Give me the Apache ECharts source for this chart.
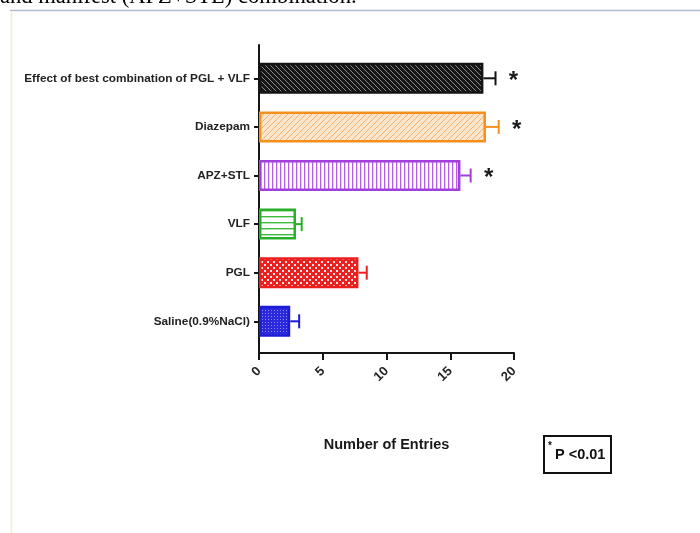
<!DOCTYPE html>
<html>
<head>
<meta charset="utf-8">
<script src="https://cdn.jsdelivr.net/npm/echarts@6/dist/echarts.min.js"></script>
<style>
html,body{margin:0;padding:0;background:#fff;}
#chart{width:700px;height:533px;}
</style>
</head>
<body>
<div id="chart"></div>
<script>
// ---- data (top to bottom) ----
const categories = ['Effect of best combination of PGL + VLF', 'Diazepam', 'APZ+STL', 'VLF', 'PGL', 'Saline(0.9%NaCl)'];
const means = [17.6, 17.8, 15.8, 2.9, 7.8, 2.45];
const errors = [0.95, 1.0, 0.8, 0.45, 0.65, 0.7];
const significant = [true, true, true, false, false, false];
const xTicks = [0, 5, 10, 15, 20];
const xAxisTitle = 'Number of Entries';
const legendText = 'P <0.01';
const captionText = 'and manifest (APZ+STL) combination.';

// ---- styles ----
const FONT = "'Liberation Sans',Arial,sans-serif";
const borderColors = ['#141414', '#f5901e', '#a23fdc', '#27b027', '#ec1f1f', '#1c1cd8'];

function tile(w, h, draw) {
  const c = document.createElement('canvas');
  c.width = w; c.height = h;
  const g = c.getContext('2d');
  draw(g, w, h);
  return { image: c, repeat: 'repeat' };
}
function diag(g, w, color, lw, back) {
  g.strokeStyle = color; g.lineWidth = lw;
  for (let x0 = -w; x0 <= w; x0 += w) {
    g.beginPath();
    if (back) { g.moveTo(x0, 0); g.lineTo(x0 + w, w); }
    else { g.moveTo(x0, w); g.lineTo(x0 + w, 0); }
    g.stroke();
  }
}
const fills = [
  tile(5, 5, (g, w) => { g.fillStyle = '#151515'; g.fillRect(0, 0, w, w); diag(g, w, '#8a8a8a', 1, true); }),
  tile(6, 6, (g, w) => { g.fillStyle = '#fde6cc'; g.fillRect(0, 0, w, w); diag(g, w, '#f6b070', 1, false); }),
  tile(4, 4, (g) => { g.fillStyle = '#ffffff'; g.fillRect(0, 0, 4, 4); g.fillStyle = '#b45fe6'; g.fillRect(0, 0, 1.3, 4); }),
  tile(6, 6, (g) => { g.fillStyle = '#ffffff'; g.fillRect(0, 0, 6, 6); g.fillStyle = '#3cbc3c'; g.fillRect(0, 0, 6, 1.4); }),
  tile(6, 6, (g) => { g.fillStyle = '#ec2020'; g.fillRect(0, 0, 6, 6); g.fillStyle = '#fbe4e4'; g.fillRect(0, 0, 2, 2); g.fillRect(3, 3, 2, 2); }),
  tile(3, 3, (g) => { g.fillStyle = '#2a2adc'; g.fillRect(0, 0, 3, 3); g.fillStyle = '#8c8cf4'; g.fillRect(1, 1, 1, 1); })
];

const barData = means.map((v, i) => ({
  value: v,
  itemStyle: { color: fills[i], borderColor: borderColors[i], borderWidth: 2.5 }
}));
const errData = means.map((v, i) => [v, i, errors[i], significant[i] ? 1 : 0]);

const chart = echarts.init(document.getElementById('chart'), null, { renderer: 'canvas' });
chart.setOption({
  animation: false,
  backgroundColor: '#ffffff',
  grid: [
    { left: 259, width: 255, top: 54, height: 291.6 },
    { left: 259, width: 255, top: 45, height: 308 }
  ],
  xAxis: [
    { gridIndex: 0, type: 'value', min: 0, max: 20, show: false },
    {
      gridIndex: 1, type: 'value', min: 0, max: 20, interval: 5,
      axisLine: { show: true, lineStyle: { color: '#151515', width: 2 } },
      axisTick: { show: true, length: 7, lineStyle: { color: '#151515', width: 2 } },
      splitLine: { show: false },
      axisLabel: {
        rotate: 45, margin: 16, color: '#222', fontFamily: FONT, fontWeight: 'bold', fontSize: 13,
        formatter: (v) => xTicks.includes(v) ? String(v) : ''
      },
      name: xAxisTitle, nameLocation: 'middle', nameGap: 84,
      nameTextStyle: { color: '#1a1a1a', fontFamily: FONT, fontWeight: 'bold', fontSize: 14.5 }
    }
  ],
  yAxis: [
    {
      gridIndex: 0, type: 'category', data: categories, inverse: true,
      axisLine: { show: false },
      axisTick: { show: true, alignWithLabel: true, length: 5, lineStyle: { color: '#151515', width: 2 } },
      axisLabel: { margin: 9, color: '#222', fontFamily: FONT, fontWeight: 'bold', fontSize: 11.8 }
    },
    {
      gridIndex: 1, type: 'value', min: 0, max: 1,
      axisLine: { show: true, lineStyle: { color: '#151515', width: 2 } },
      axisTick: { show: false }, axisLabel: { show: false }, splitLine: { show: false }
    }
  ],
  series: [
    {
      type: 'bar', xAxisIndex: 0, yAxisIndex: 0, data: barData, barWidth: 31,
      z: 2
    },
    {
      type: 'custom', xAxisIndex: 0, yAxisIndex: 0, data: errData,
      encode: { x: 0, y: 1 }, z: 3,
      renderItem: function (params, api) {
        const i = params.dataIndex;
        const m = api.value(0), idx = api.value(1), e = api.value(2), sig = api.value(3);
        const s = api.coord([m, idx]);
        const t = api.coord([m + e, idx]);
        const col = borderColors[i];
        const children = [
          { type: 'line', shape: { x1: s[0], y1: s[1], x2: t[0], y2: t[1] }, style: { stroke: col, lineWidth: 2 } },
          { type: 'line', shape: { x1: t[0], y1: t[1] - 7, x2: t[0], y2: t[1] + 7 }, style: { stroke: col, lineWidth: 2 } }
        ];
        if (sig) {
          children.push({
            type: 'text', x: t[0] + 18, y: t[1] + 3,
            style: { text: '*', fill: '#1a1a1a', font: 'bold 24px ' + FONT, align: 'center', verticalAlign: 'middle' }
          });
        }
        return { type: 'group', children: children };
      }
    }
  ],
  graphic: [
    {
      type: 'text', left: 0, top: -14,
      style: { text: captionText, fill: '#000', font: '22.6px "Liberation Serif","Times New Roman",serif' }
    },
    { type: 'line', shape: { x1: 10, y1: 10.5, x2: 700, y2: 10.5 }, style: { stroke: '#aebbd2', lineWidth: 1.5 } },
    { type: 'line', shape: { x1: 11.5, y1: 11, x2: 11.5, y2: 533 }, style: { stroke: '#f1f1e2', lineWidth: 2 } },
    {
      type: 'group', left: 543, top: 435,
      children: [
        { type: 'rect', shape: { x: 0, y: 0, width: 67, height: 37 }, style: { fill: '#fff', stroke: '#111', lineWidth: 2 } },
        { type: 'text', x: 4, y: 10, style: { text: '*', fill: '#111', font: 'bold 10px ' + FONT, verticalAlign: 'middle' } },
        { type: 'text', x: 11, y: 19, style: { text: legendText, fill: '#111', font: 'bold 14.5px ' + FONT, verticalAlign: 'middle' } }
      ]
    }
  ]
});
</script>
</body>
</html>
